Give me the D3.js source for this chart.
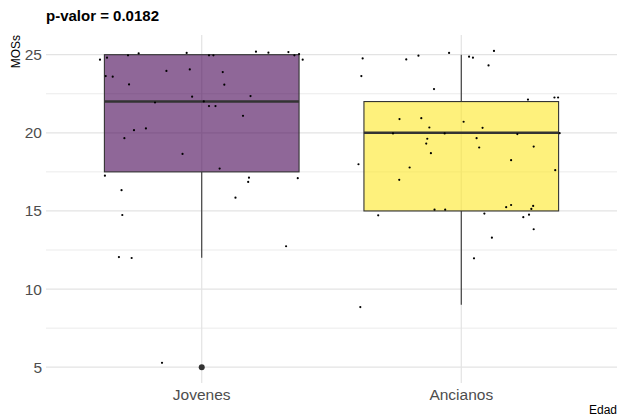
<!DOCTYPE html>
<html lang="en">
<head>
<meta charset="utf-8">
<title>MOSs por Edad</title>
<script src="https://d3js.org/d3.v7.min.js"></script>
<style>
  body { margin: 0; background: white; }
  text { font-family: "Liberation Sans", Arial, sans-serif; }
</style>
<script>
  const W = 618, H = 418;
  const panel = { left: 46, right: 617, top: 35, bottom: 383 };

  const categories = ["Jovenes", "Ancianos"];
  const fills = ["#440154", "#FDE725"];
  const yTicks = [5, 10, 15, 20, 25];
  const yMinor = [7.5, 12.5, 17.5, 22.5];

  // box stats: lower whisker, Q1, median, Q3, upper whisker
  const boxLow = [12, 9];
  const boxQ1 = [17.5, 15];
  const boxMed = [22, 20];
  const boxQ3 = [25, 22];
  const boxHigh = [25, 25];
  const outliers = [[0, 5]];

  // jittered points: offset (category units), value
  const jovOffset = [-0.392,-0.365,-0.370,-0.343,-0.284,-0.280,-0.243,-0.298,-0.261,-0.215,-0.180,-0.136,-0.074,-0.058,-0.046,-0.037,0.008,0.028,0.028,0.045,0.053,0.069,0.081,0.087,0.130,0.159,0.179,0.182,0.188,0.209,0.257,0.334,0.357,0.375,0.389,0.370,-0.373,-0.309,-0.306,-0.319,-0.270,0.325,-0.153];
  const jovValue = [24.68,24.81,23.63,23.59,24.96,23.10,25.08,19.66,20.17,20.28,21.94,23.96,18.65,25.11,24.06,22.31,22.01,21.71,24.96,24.96,21.71,17.71,23.89,23.08,15.85,21.09,16.86,17.13,22.35,25.19,25.13,25.17,24.96,25.04,24.68,17.10,17.26,16.33,14.74,12.05,11.99,12.74,5.28];
  const ancOffset = [-0.380,-0.385,-0.212,-0.165,-0.047,-0.105,0.030,0.045,0.105,0.126,0.257,0.359,0.373,-0.238,-0.154,-0.123,0.009,0.082,-0.263,-0.064,0.216,0.379,-0.131,-0.135,0.059,0.069,-0.117,0.279,0.192,-0.396,-0.199,0.362,-0.239,-0.103,-0.062,0.173,0.192,0.277,0.270,-0.320,0.089,0.239,0.261,0.279,0.118,0.049,-0.389];
  const ancValue = [24.76,23.63,24.70,24.94,25.11,22.80,24.87,24.81,24.31,25.24,22.13,22.26,22.26,20.88,20.94,20.34,20.71,20.32,19.96,19.96,19.92,19.98,19.62,19.31,19.66,19.06,18.70,19.12,18.25,17.99,17.78,17.61,16.99,15.08,15.08,15.24,15.38,15.32,15.13,14.72,14.83,14.60,14.76,13.83,13.29,11.97,8.85];
</script>
</head>
<body>
<svg id="chart" width="618" height="418"></svg>
<script>
  const svg = d3.select("#chart");

  const x = d3.scaleLinear().domain([0.4, 2.6]).range([panel.left, panel.right]);
  const y = d3.scaleLinear().domain([3.99, 26.26]).range([panel.bottom, panel.top]);
  const boxW = x(0.75) - x(0);

  const grid = svg.append("g");
  grid.selectAll("line.minor").data(yMinor).enter().append("line")
    .attr("x1", panel.left).attr("x2", panel.right)
    .attr("y1", d => y(d)).attr("y2", d => y(d))
    .attr("stroke", "#ebebeb").attr("stroke-width", 1);
  grid.selectAll("line.major").data(yTicks).enter().append("line")
    .attr("x1", panel.left).attr("x2", panel.right)
    .attr("y1", d => y(d)).attr("y2", d => y(d))
    .attr("stroke", "#e3e3e3").attr("stroke-width", 1.2);
  grid.selectAll("line.vx").data(categories).enter().append("line")
    .attr("x1", (d, i) => x(i + 1)).attr("x2", (d, i) => x(i + 1))
    .attr("y1", panel.top).attr("y2", panel.bottom)
    .attr("stroke", "#e3e3e3").attr("stroke-width", 1.2);

  // boxes
  const boxes = svg.append("g");
  categories.forEach((c, i) => {
    const cx = x(i + 1);
    const g = boxes.append("g");
    g.append("line").attr("x1", cx).attr("x2", cx)
      .attr("y1", y(boxQ3[i])).attr("y2", y(boxHigh[i]))
      .attr("stroke", "#333").attr("stroke-width", 1.1);
    g.append("line").attr("x1", cx).attr("x2", cx)
      .attr("y1", y(boxQ1[i])).attr("y2", y(boxLow[i]))
      .attr("stroke", "#333").attr("stroke-width", 1.1);
    g.append("rect")
      .attr("x", cx - boxW / 2).attr("width", boxW)
      .attr("y", y(boxQ3[i])).attr("height", y(boxQ1[i]) - y(boxQ3[i]))
      .attr("fill", fills[i]).attr("fill-opacity", 0.6)
      .attr("stroke", "#333").attr("stroke-width", 1.1);
    g.append("line").attr("x1", cx - boxW / 2).attr("x2", cx + boxW / 2)
      .attr("y1", y(boxMed[i])).attr("y2", y(boxMed[i]))
      .attr("stroke", "#333").attr("stroke-width", 2.6);
  });

  svg.append("g").selectAll("circle").data(outliers).enter().append("circle")
    .attr("cx", d => x(d[0] + 1)).attr("cy", d => y(d[1]))
    .attr("r", 3).attr("fill", "#333");

  // jitter points
  const pts = jovOffset.map((o, i) => [1 + o, jovValue[i]])
    .concat(ancOffset.map((o, i) => [2 + o, ancValue[i]]));
  svg.append("g").selectAll("circle").data(pts).enter().append("circle")
    .attr("cx", d => x(d[0])).attr("cy", d => y(d[1]))
    .attr("r", 1.1).attr("fill", "#000");

  // axes text
  svg.append("g").selectAll("text").data(yTicks).enter().append("text")
    .attr("x", 42).attr("y", d => y(d)).attr("dy", "0.35em")
    .attr("text-anchor", "end").attr("font-size", 15.5).attr("fill", "#4d4d4d")
    .text(d => d);
  svg.append("g").selectAll("text").data(categories).enter().append("text")
    .attr("x", (d, i) => x(i + 1)).attr("y", 400)
    .attr("text-anchor", "middle").attr("font-size", 15.5).attr("fill", "#4d4d4d")
    .text(d => d);

  svg.append("text").attr("transform", "translate(20," + panel.top + ") rotate(-90)")
    .attr("text-anchor", "end").attr("font-size", 12).attr("fill", "#000")
    .text("MOSs");
  svg.append("text").attr("x", 617).attr("y", 414)
    .attr("text-anchor", "end").attr("font-size", 12).attr("fill", "#000")
    .text("Edad");
  svg.append("text").attr("x", 46).attr("y", 21)
    .attr("font-size", 15).attr("font-weight", "bold").attr("fill", "#000")
    .text("p-valor = 0.0182");
</script>
</body>
</html>
